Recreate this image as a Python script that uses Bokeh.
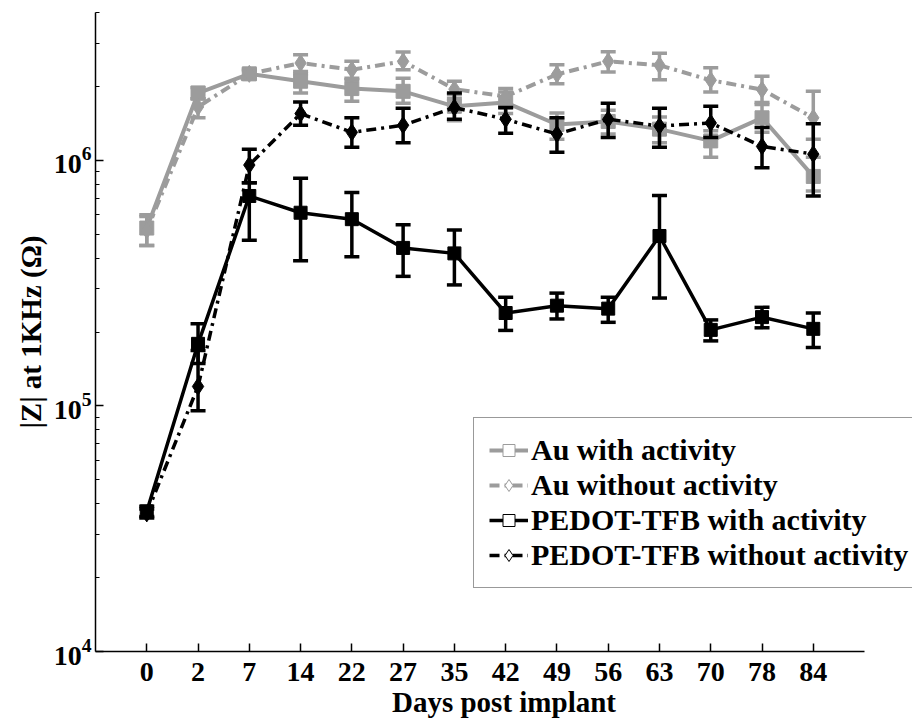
from bokeh.plotting import figure
from bokeh.models import ColumnDataSource, FixedTicker, Legend, LegendItem, Range1d
from bokeh.embed import file_html
from bokeh.resources import INLINE

days = ["0", "2", "7", "14", "22", "27", "35", "42", "49", "56", "63", "70", "78", "84"]

au_with = [5.3e5, 1.88e6, 2.25e6, 2.10e6, 1.96e6, 1.91e6, 1.66e6, 1.72e6, 1.40e6, 1.44e6, 1.34e6, 1.20e6, 1.49e6, 8.6e5]
au_with_hi = [6.0e5, 1.98e6, 2.35e6, 2.25e6, 2.13e6, 2.16e6, 1.85e6, 1.90e6, 1.56e6, 1.60e6, 1.50e6, 1.32e6, 1.72e6, 1.03e6]
au_with_lo = [4.5e5, 1.78e6, 2.15e6, 1.88e6, 1.74e6, 1.71e6, 1.45e6, 1.55e6, 1.22e6, 1.28e6, 1.18e6, 1.03e6, 1.30e6, 7.5e5]

au_wo = [5.2e5, 1.65e6, 2.25e6, 2.49e6, 2.34e6, 2.53e6, 1.95e6, 1.82e6, 2.24e6, 2.53e6, 2.44e6, 2.12e6, 1.94e6, 1.49e6]
au_wo_hi = [5.9e5, 1.78e6, 2.32e6, 2.69e6, 2.53e6, 2.76e6, 2.10e6, 1.96e6, 2.45e6, 2.77e6, 2.73e6, 2.38e6, 2.20e6, 1.91e6]
au_wo_lo = [4.5e5, 1.49e6, 2.15e6, 2.30e6, 2.16e6, 2.34e6, 1.78e6, 1.65e6, 2.05e6, 2.29e6, 2.13e6, 1.90e6, 1.69e6, 1.22e6]

pe_with = [3.72e4, 1.79e5, 7.16e5, 6.12e5, 5.76e5, 4.40e5, 4.18e5, 2.39e5, 2.56e5, 2.49e5, 4.92e5, 2.04e5, 2.30e5, 2.06e5]
pe_with_hi = [3.9e4, 2.16e5, 8.1e5, 8.45e5, 7.4e5, 5.47e5, 5.21e5, 2.77e5, 2.88e5, 2.77e5, 7.2e5, 2.24e5, 2.52e5, 2.39e5]
pe_with_lo = [3.55e4, 1.49e5, 4.73e5, 3.9e5, 4.05e5, 3.37e5, 3.11e5, 2.03e5, 2.26e5, 2.19e5, 2.75e5, 1.84e5, 2.08e5, 1.73e5]

pe_wo = [3.65e4, 1.20e5, 9.57e5, 1.55e6, 1.30e6, 1.39e6, 1.64e6, 1.47e6, 1.28e6, 1.47e6, 1.38e6, 1.42e6, 1.14e6, 1.06e6]
pe_wo_hi = [3.8e4, 1.68e5, 1.11e6, 1.73e6, 1.49e6, 1.63e6, 1.88e6, 1.64e6, 1.49e6, 1.71e6, 1.63e6, 1.66e6, 1.36e6, 1.41e6]
pe_wo_lo = [3.5e4, 9.55e4, 8.1e5, 1.39e6, 1.13e6, 1.18e6, 1.47e6, 1.29e6, 1.08e6, 1.24e6, 1.13e6, 1.24e6, 9.33e5, 7.16e5]

series_labels = ["Au with activity", "Au without activity",
                 "PEDOT-TFB with activity", "PEDOT-TFB without activity"]

GRAY = "#9c9c9c"
BLACK = "#000000"
FONT = "Liberation Serif"
DASHDOT = "10 5 3 5"

x = list(range(len(days)))

# frame spans 95..912 px; the drawn x axis stops at index 14 (px 864)
p = figure(width=914, height=720, y_axis_type="log",
           x_range=Range1d(-1, 14.935), y_range=Range1d(1e4, 4e6),
           output_backend="svg", toolbar_location=None,
           min_border_left=95, min_border_right=2,
           min_border_top=12, min_border_bottom=68)
p.outline_line_color = None
p.grid.visible = False
p.background_fill_color = "white"
p.border_fill_color = "white"

styles = [
    (au_with, au_with_hi, au_with_lo, GRAY, "solid", "square", 14, 4),
    (au_wo, au_wo_hi, au_wo_lo, GRAY, DASHDOT, "diamond", 17, 4),
    (pe_with, pe_with_hi, pe_with_lo, BLACK, "solid", "square", 13, 3.5),
    (pe_wo, pe_wo_hi, pe_wo_lo, BLACK, DASHDOT, "diamond", 17, 3.5),
]

items = []
for (vals, hi, lo, color, dash, marker, msize, lw), label in zip(styles, series_labels):
    src = ColumnDataSource(dict(x=x, y=vals, hi=hi, lo=lo))
    p.segment(x0="x", y0="lo", x1="x", y1="hi", source=src, line_color=color, line_width=3.5)
    p.scatter(x="x", y="hi", source=src, marker="dash", size=15, line_color=color, line_width=3.5)
    p.scatter(x="x", y="lo", source=src, marker="dash", size=15, line_color=color, line_width=3.5)
    lr = p.line(x="x", y="y", source=src, line_color=color, line_width=lw, line_dash=dash)
    p.scatter(x="x", y="y", source=src, marker=marker, size=msize,
              fill_color=color, line_color=color)
    # legend-only open marker (not drawn in the plot: NaN position)
    ghost = ColumnDataSource(dict(x=[float("nan")], y=[float("nan")]))
    mr = p.scatter(x="x", y="y", source=ghost, marker=marker, size=8,
                   fill_color="white", line_color=color, line_width=1)
    items.append(LegendItem(label=label, renderers=[lr, mr]))

legend = Legend(items=items, location=(378, 63))
legend.label_text_font = FONT
legend.label_text_font_style = "bold"
legend.label_text_font_size = "30px"
legend.label_text_color = "black"
legend.border_line_color = "#333333"
legend.border_line_width = 1.5
legend.background_fill_color = "white"
legend.background_fill_alpha = 1.0
legend.glyph_width = 39
legend.glyph_height = 30
legend.label_height = 30
legend.spacing = 1
legend.padding = 15
legend.margin = 0
legend.label_standoff = 3
p.add_layout(legend)

# axes
minor = []
for base in [1e4, 1e5, 1e6]:
    for k in range(2, 10):
        if base * k <= 4e6:
            minor.append(base * k)
p.yaxis.ticker = FixedTicker(ticks=[1e4, 1e5, 1e6], minor_ticks=minor)
p.xaxis.ticker = FixedTicker(ticks=x)
p.xaxis.major_label_overrides = {i: d for i, d in enumerate(days)}
p.xaxis.bounds = (-1, 14)

for ax in [p.xaxis[0], p.yaxis[0]]:
    ax.axis_line_width = 1.5
    ax.axis_line_color = "black"
    ax.major_tick_line_width = 1.5
    ax.minor_tick_line_width = 1.2
    ax.major_tick_in = 8
    ax.major_tick_out = 0
    ax.minor_tick_in = 4
    ax.minor_tick_out = 0
    ax.major_label_text_font = FONT
    ax.major_label_text_font_style = "bold"
    ax.major_label_text_font_size = "28px"
    ax.major_label_text_color = "black"
    ax.axis_label_text_font = FONT
    ax.axis_label_text_font_style = "bold"
    ax.axis_label_text_font_size = "29px"
    ax.axis_label_text_color = "black"

p.xaxis.minor_tick_line_color = None
p.xaxis.axis_label = "Days post implant"
p.xaxis.major_label_standoff = 11
p.xaxis.axis_label_standoff = 2
p.yaxis.axis_label = "|Z| at 1KHz (Ω)"
p.yaxis.major_label_standoff = 4
p.yaxis.axis_label_standoff = 4

open("out.html", "w").write(file_html(p, INLINE))
